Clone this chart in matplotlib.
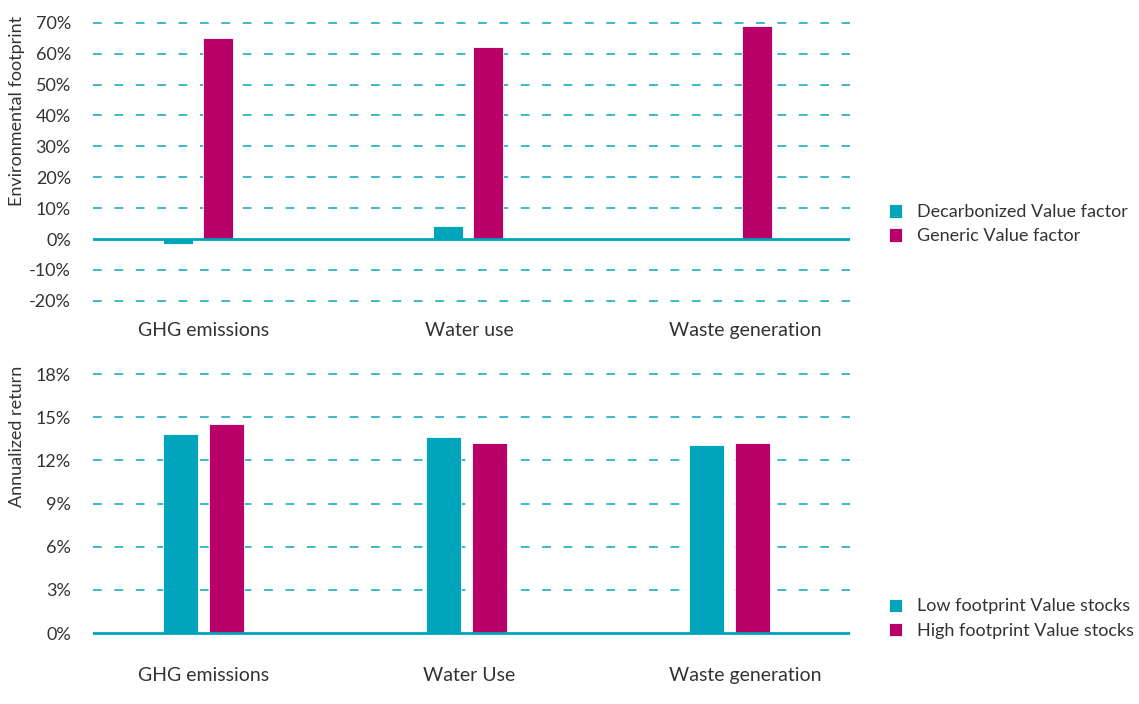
import numpy as np
import matplotlib
matplotlib.use("Agg")
import matplotlib.pyplot as plt
from matplotlib.ticker import FuncFormatter

plt.rcParams['font.family'] = ['Lato', 'DejaVu Sans']

# environmental footprint of the two value factors (in %)
footprint_cats = ["GHG emissions", "Water use", "Waste generation"]
decarbonized = [-1.6, 4.2, 0.0]
generic = [65.0, 62.0, 69.0]

# annualized return of low/high footprint value stocks (in %)
return_cats = ["GHG emissions", "Water Use", "Waste generation"]
low_fp = [13.8, 13.6, 13.1]
high_fp = [14.5, 13.2, 13.2]

TEAL = "#00A4BB"
MAGENTA = "#B90068"
GRID = "#3DB9CB"
TEXT = "#333333"

fig = plt.figure(figsize=(11.39, 7.04), dpi=100)
ax1 = fig.add_axes([0.0817, 0.5683, 0.6646, 0.4038])
ax2 = fig.add_axes([0.0817, 0.0906, 0.6646, 0.3883])


def style(ax, ticks, ylim, xlim, labels, shift, xpad):
    x = np.arange(len(labels))
    ax.set_xlim(*xlim)
    ax.set_ylim(*ylim)
    ax.set_yticks(ticks)
    for t in ticks:
        if t == 0:
            continue
        ax.axhline(t, color=GRID, lw=1.4, ls=(0, (4.5, 6.5)), zorder=0)
    ax.axhline(0, color=TEAL, lw=2, zorder=3)
    ax.yaxis.set_major_formatter(FuncFormatter(lambda v, p: f"{v:.0f}%"))
    # category labels sit a little right of the bar groups
    ax.set_xticks(x + np.asarray(shift))
    ax.set_xticklabels(labels)
    ax.tick_params(axis='y', length=0, pad=16, labelsize=13, labelcolor=TEXT)
    ax.tick_params(axis='x', length=0, pad=xpad, labelsize=14, labelcolor=TEXT)
    for s in ax.spines.values():
        s.set_visible(False)


x = np.arange(len(footprint_cats))
ax1.bar(x - 0.0742, decarbonized, 0.111, color=TEAL, edgecolor="white", lw=0.6,
        label="Decarbonized Value factor", zorder=2)
ax1.bar(x + 0.0742, generic, 0.111, color=MAGENTA, edgecolor="white", lw=0.6,
        label="Generic Value factor", zorder=2)
style(ax1, np.arange(-20, 71, 10), (-21, 71), (-0.3896, 2.419), footprint_cats,
      [0.022, 0.006, 0.030], 13)

x = np.arange(len(return_cats))
ax2.bar(x - 0.0865, low_fp, 0.133, color=TEAL, edgecolor="white", lw=0.6,
        label="Low footprint Value stocks", zorder=2)
ax2.bar(x + 0.0865, high_fp, 0.133, color=MAGENTA, edgecolor="white", lw=0.6,
        label="High footprint Value stocks", zorder=2)
style(ax2, np.arange(0, 19, 3), (-0.5, 18.5), (-0.420, 2.458), return_cats,
      [0.002, 0.010, 0.059], 19)

for ax, anchor in ((ax1, (0.766, 0.733)), (ax2, (0.766, 0.173))):
    ax.legend(loc="upper left", bbox_to_anchor=anchor, bbox_transform=fig.transFigure,
              frameon=False, fontsize=13, handlelength=0.75, handleheight=0.75,
              handletextpad=0.8, labelspacing=0.45, labelcolor=TEXT)

fig.text(0.015, 0.842, "Environmental footprint", rotation=90, ha="center", va="center",
         fontsize=13, color=TEXT)
fig.text(0.015, 0.38, "Annualized return", rotation=90, ha="center", va="center",
         fontsize=13, color=TEXT)

fig.savefig("out.png", dpi=100)
